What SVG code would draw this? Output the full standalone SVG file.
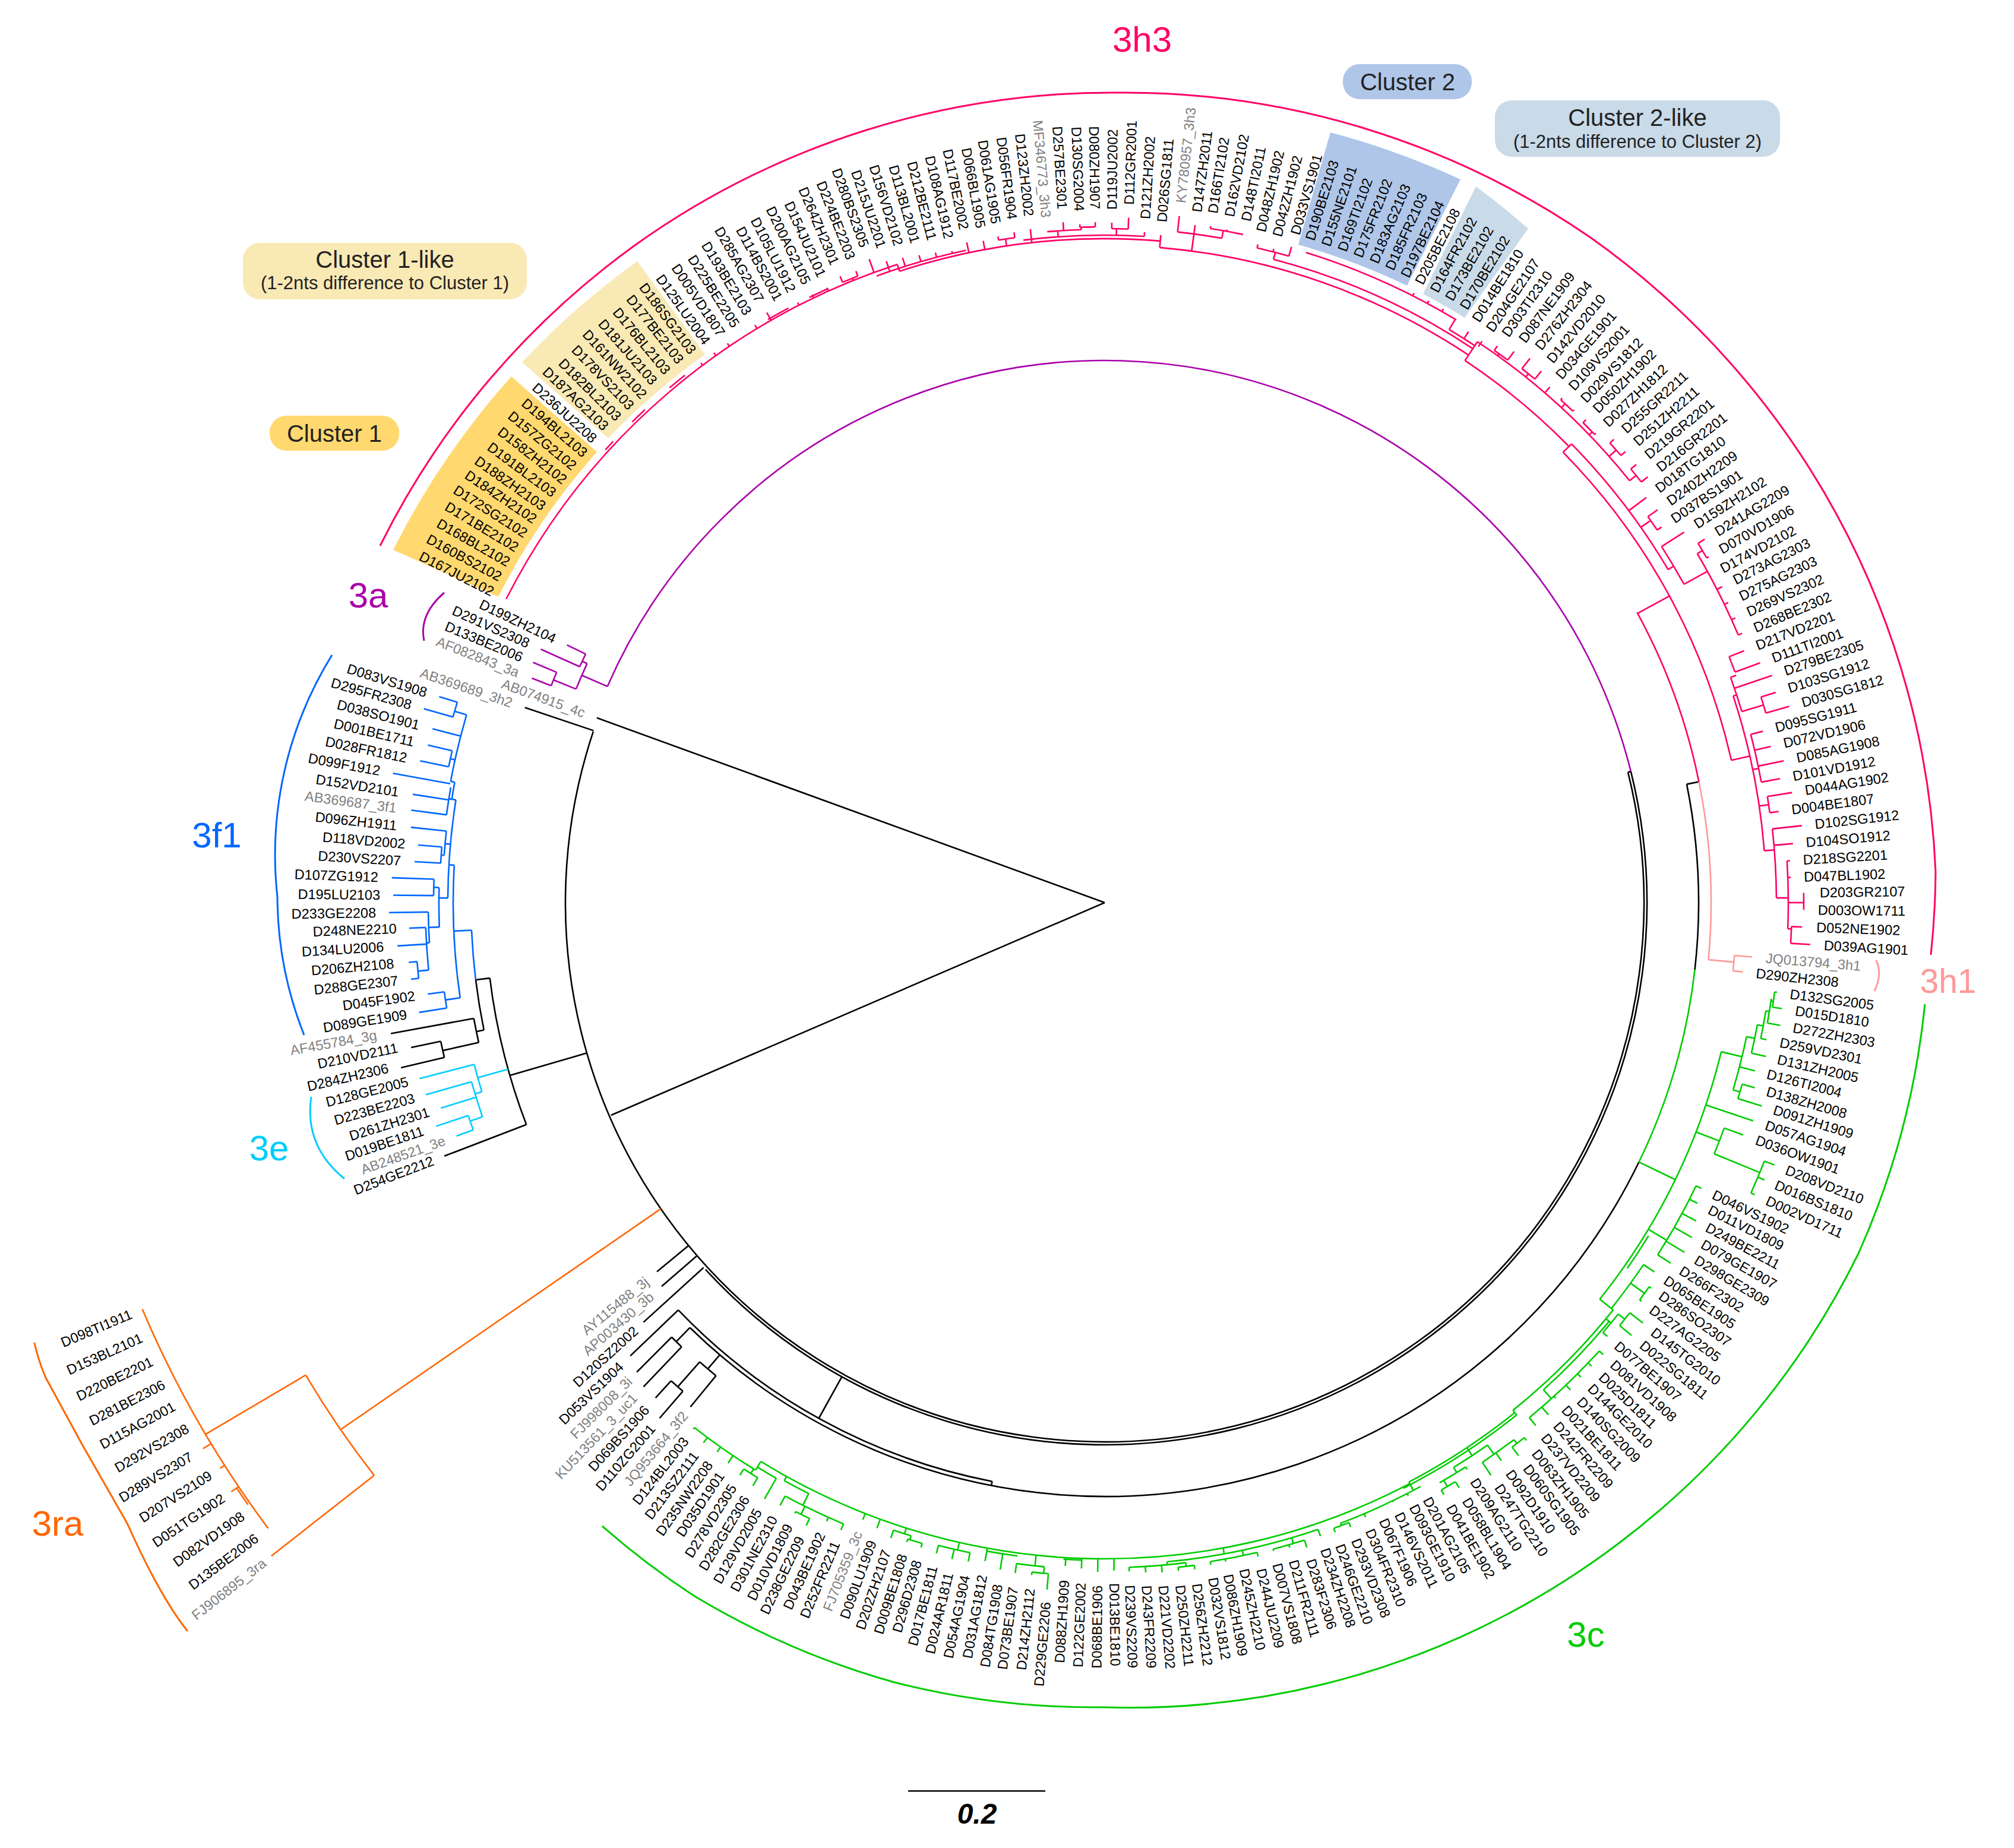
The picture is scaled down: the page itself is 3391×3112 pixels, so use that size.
<svg xmlns="http://www.w3.org/2000/svg" width="3391" height="3112" viewBox="0 0 3391 3112">
<style>
text{font-family:"Liberation Sans",Arial,sans-serif}
.t text{font-size:23.5px;dominant-baseline:central}
.l{text-anchor:end}
.g{fill:#808080}
.tr{fill:none;stroke-width:2.6}
.br{fill:none;stroke-width:3}
.h{font-size:60px}
.c1{font-size:40px;text-anchor:middle;fill:#222}
.c2{font-size:31px;text-anchor:middle;fill:#222}
</style>
<rect width="3391" height="3112" fill="#fff"/>
<g id="cluster-wedges">
<path id="wedge-cluster1" fill="#FFD86F" d="M861 634A1336 1336 0 0 0 662 926L839 1005A1143 1143 0 0 1 1005 761Z"/>
<path id="wedge-cluster1-like" fill="#F9E9B5" d="M879 610A1336 1336 0 0 1 1073 440L1187 597A1143 1143 0 0 0 1024 738Z"/>
<path id="wedge-cluster2" fill="#AFC6E9" d="M2240 223A1354 1354 0 0 1 2459 302L2369 481A1156 1156 0 0 0 2186 412Z"/>
<path id="wedge-cluster2-like" fill="#C9DAE8" d="M2485 314A1350 1350 0 0 1 2573 385L2466 535A1156 1156 0 0 0 2396 495Z"/>
</g>
<g id="cluster1-like"><rect x="409" y="409" width="478" height="95" rx="28" fill="#F9E9B5"/><text class="c1" x="648" y="451">Cluster 1-like</text><text class="c2" x="648" y="487">(1-2nts difference to Cluster 1)</text></g>
<g id="cluster1"><rect x="454" y="700" width="218" height="59" rx="28" fill="#FFD86F"/><text class="c1" x="563" y="744">Cluster 1</text></g>
<g id="cluster2"><rect x="2261" y="108" width="217" height="59" rx="28" fill="#AFC6E9"/><text class="c1" x="2370" y="152">Cluster 2</text></g>
<g id="cluster2-like"><rect x="2517" y="169" width="480" height="95" rx="28" fill="#C9DAE8"/><text class="c1" x="2757" y="212">Cluster 2-like</text><text class="c2" x="2757" y="249">(1-2nts difference to Cluster 2)</text></g>
<g id="clade-brackets" class="br">
<path stroke="#FF0066" d="M640 919A1380 1380 0 0 1 1069 413A1380 1380 0 0 1 1883 156A1380 1380 0 0 1 2678 400A1380 1380 0 0 1 3259 1468A1380 1380 0 0 1 3251 1608"/>
<path stroke="#FF9999" d="M3159 1617Q3170 1640 3156 1669"/>
<path stroke="#00CC00" d="M3241 1691A1365 1365 0 0 1 3129 2111A1365 1365 0 0 1 2724 2600A1365 1365 0 0 1 2229 2836A1365 1365 0 0 1 1859 2875A1365 1365 0 0 1 1506 2833A1365 1365 0 0 1 1168 2687A1365 1365 0 0 1 1014 2570"/>
<path stroke="#FF6600" d="M58 2261Q64 2290 77 2320L138 2432L214 2565Q270 2690 316 2747"/>
<path stroke="#00CCFF" d="M524 1847Q512 1930 580 1985"/>
<path stroke="#0066FF" d="M559 1103A640 640 0 0 0 467 1510A640 640 0 0 0 512 1743"/>
<path stroke="#AA00AA" d="M748 998Q705 1035 714 1079"/>
</g>
<g id="connectors" transform="translate(1860 1520)">
<g class="tr" stroke="#000">
<path d="M0 0H910" transform="rotate(200)"/><path d="M0 0H905" transform="rotate(156.7)"/>
<circle r="908" pathLength="360" stroke-dasharray="212.5 999" transform="rotate(346)"/>
<circle r="913" pathLength="360" stroke-dasharray="151.4 999" transform="rotate(346)"/>
<path d="M908 0H913" transform="rotate(346)"/>
<path d="M908 0H1030" transform="rotate(198.6)"/>
<path d="M908 0H1043" transform="rotate(163.8)"/>
<circle r="1043" pathLength="360" stroke-dasharray="14 999" transform="rotate(159)"/>
<path d="M1043 0H1191" transform="rotate(159)"/><path d="M1043 0H1067" transform="rotate(173)"/>
<circle r="1067" pathLength="360" stroke-dasharray="4.6 999" transform="rotate(168.4)"/>
<path d="M1067 0H1080" transform="rotate(168.4)"/>
<circle r="1080" pathLength="360" stroke-dasharray="2.2 999" transform="rotate(167.4)"/>
<path d="M1080 0H1222" transform="rotate(169.6)"/><path d="M1080 0H1142" transform="rotate(167.4)"/>
<circle r="1142" pathLength="360" stroke-dasharray="1.4 999" transform="rotate(166.8)"/>
<path d="M1142 0H1193" transform="rotate(168.2)"/><path d="M1142 0H1217" transform="rotate(166.8)"/>
<path d="M913 0H1050" transform="rotate(137.7)"/><path d="M908 0H987" transform="rotate(139.1)"/><path d="M908 0H977" transform="rotate(140.5)"/>
<path d="M913 0H993" transform="rotate(119)"/>
<circle r="993" pathLength="360" stroke-dasharray="35.3 999" transform="rotate(101)"/>
<path d="M993 0H1001" transform="rotate(101)"/><path d="M993 0H1105" transform="rotate(136.3)"/>
<circle r="1000" pathLength="360" stroke-dasharray="18 999" transform="rotate(348.5)"/>
<circle r="1000" pathLength="360" stroke-dasharray="108.4 999" transform="rotate(25.9)"/>
<path d="M1000 0H1021" transform="rotate(348.5)"/>
<path d="M1000 0H1033" transform="rotate(134.3)"/>
<circle r="1033" pathLength="360" stroke-dasharray="1.3 999" transform="rotate(133.6)"/>
<path d="M1033 0H1126" transform="rotate(133.6)"/><path d="M1033 0H1116" transform="rotate(134.9)"/>
<path d="M1000 0H1031" transform="rotate(130.4)"/>
<circle r="1031" pathLength="360" stroke-dasharray="2 999" transform="rotate(129.4)"/>
<path d="M1031 0H1099" transform="rotate(129.4)"/><path d="M1031 0H1087" transform="rotate(131.4)"/>
<circle r="1087" pathLength="360" stroke-dasharray="1.4 999" transform="rotate(130.8)"/>
<path d="M1087 0H1126" transform="rotate(132.2)"/><path d="M1087 0H1147" transform="rotate(130.8)"/>
</g>
<g class="tr" stroke="#AA00AA">
<circle r="913" pathLength="360" stroke-dasharray="142.5 999" transform="rotate(203.5)"/>
<path d="M913 0H960" transform="rotate(203.5)"/>
<circle r="960" pathLength="360" stroke-dasharray="2.8 999" transform="rotate(202)"/>
<path d="M960 0H969" transform="rotate(204.8)"/>
<circle r="969" pathLength="360" stroke-dasharray="1.4 999" transform="rotate(204.2)"/>
<path d="M969 0H1004" transform="rotate(205.6)"/><path d="M969 0H1041" transform="rotate(204.2)"/>
<path d="M960 0H1001" transform="rotate(202)"/>
<circle r="1001" pathLength="360" stroke-dasharray="1.4 999" transform="rotate(201.4)"/>
<path d="M1001 0H1044" transform="rotate(202.8)"/><path d="M1001 0H1036" transform="rotate(201.4)"/>
</g>
<g class="tr" stroke="#FF6600">
<path d="M908 0H1563" transform="rotate(145.4)"/>
<circle r="1563" pathLength="360" stroke-dasharray="7.5 999" transform="rotate(141.9)"/>
<path d="M1563 0H1783" transform="rotate(141.9)"/><path d="M1563 0H1759" transform="rotate(149.4)"/>
<circle r="1759" pathLength="360" stroke-dasharray="13.9 999" transform="rotate(143.2)"/>
<path d="M1759 0H1775" transform="rotate(148.8)"/><path d="M1759 0H1768" transform="rotate(147.4)"/><path d="M1759 0H1774" transform="rotate(146)"/>
<circle r="1763" pathLength="360" stroke-dasharray="1.1 999" transform="rotate(144.9)"/>
</g>
<g class="tr" stroke="#FF9999">
<circle r="1021" pathLength="360" stroke-dasharray="16.9 999" transform="rotate(348.5)"/>
<path d="M1021 0H1064" transform="rotate(5.4)"/>
<circle r="1064" pathLength="360" stroke-dasharray="1.4 999" transform="rotate(4.8)"/>
<path d="M1064 0H1094" transform="rotate(4.8)"/><path d="M1064 0H1081" transform="rotate(6.2)"/>
</g>
<g class="tr" stroke="#00CCFF">
<path d="M1043 0H1096" transform="rotate(164.4)"/>
<circle r="1096" pathLength="360" stroke-dasharray="2.5 999" transform="rotate(163.1)"/>
<path d="M1096 0H1191" transform="rotate(165.6)"/><path d="M1096 0H1108" transform="rotate(163.1)"/>
<circle r="1108" pathLength="360" stroke-dasharray="3.2 999" transform="rotate(161)"/>
<path d="M1108 0H1188" transform="rotate(164.2)"/><path d="M1108 0H1170" transform="rotate(162.8)"/><path d="M1108 0H1130" transform="rotate(161)"/>
<circle r="1130" pathLength="360" stroke-dasharray="1.3 999" transform="rotate(160.2)"/>
<path d="M1130 0H1187" transform="rotate(161.5)"/><path d="M1130 0H1160" transform="rotate(160.2)"/>
</g>
<g class="tr" stroke="#0066FF">
<circle r="1067" pathLength="360" stroke-dasharray="4.5 999" transform="rotate(173)"/>
<path d="M1067 0H1097" transform="rotate(177.5)"/>
<circle r="1097" pathLength="360" stroke-dasharray="11.7 999" transform="rotate(171.6)"/>
<path d="M1097 0H1122" transform="rotate(171.6)"/>
<circle r="1122" pathLength="360" stroke-dasharray="1.4 999" transform="rotate(170.9)"/>
<path d="M1122 0H1150" transform="rotate(172.3)"/><path d="M1122 0H1169" transform="rotate(170.9)"/>
<path d="M1097 0H1106" transform="rotate(183.3)"/>
<circle r="1106" pathLength="360" stroke-dasharray="8.6 999" transform="rotate(180.4)"/>
<path d="M1106 0H1113" transform="rotate(189)"/>
<circle r="1113" pathLength="360" stroke-dasharray="1.5 999" transform="rotate(189)"/>
<path d="M1113 0H1120" transform="rotate(190.5)"/>
<circle r="1120" pathLength="360" stroke-dasharray="5.9 999" transform="rotate(190.5)"/>
<path d="M1120 0H1141" transform="rotate(196.4)"/>
<circle r="1141" pathLength="360" stroke-dasharray="1.3 999" transform="rotate(195.9)"/>
<path d="M1141 0H1192" transform="rotate(195.9)"/><path d="M1141 0H1173" transform="rotate(197.2)"/>
<path d="M1120 0H1169" transform="rotate(194.5)"/><path d="M1120 0H1128" transform="rotate(192.4)"/>
<circle r="1128" pathLength="360" stroke-dasharray="1.4 999" transform="rotate(191.7)"/>
<path d="M1128 0H1170" transform="rotate(193.1)"/><path d="M1128 0H1177" transform="rotate(191.7)"/>
<path d="M1120 0H1218" transform="rotate(190.3)"/><path d="M1113 0H1118" transform="rotate(189)"/>
<circle r="1118" pathLength="360" stroke-dasharray="2.4 999" transform="rotate(187.6)"/>
<path d="M1118 0H1179" transform="rotate(188.9)"/><path d="M1118 0H1178" transform="rotate(187.6)"/>
<path d="M1106 0H1115" transform="rotate(185.1)"/>
<circle r="1115" pathLength="360" stroke-dasharray="2.1 999" transform="rotate(184.1)"/>
<path d="M1115 0H1175" transform="rotate(186.2)"/><path d="M1115 0H1120" transform="rotate(184.1)"/>
<circle r="1120" pathLength="360" stroke-dasharray="1.4 999" transform="rotate(183.4)"/>
<path d="M1120 0H1160" transform="rotate(184.8)"/><path d="M1120 0H1164" transform="rotate(183.4)"/>
<path d="M1106 0H1121" transform="rotate(180.4)"/>
<circle r="1121" pathLength="360" stroke-dasharray="3.4 999" transform="rotate(177.9)"/>
<path d="M1121 0H1130" transform="rotate(181.3)"/>
<circle r="1130" pathLength="360" stroke-dasharray="1.4 999" transform="rotate(180.6)"/>
<path d="M1130 0H1201" transform="rotate(182)"/><path d="M1130 0H1198" transform="rotate(180.6)"/>
<path d="M1121 0H1139" transform="rotate(177.9)"/>
<circle r="1139" pathLength="360" stroke-dasharray="2.6 999" transform="rotate(176.6)"/>
<path d="M1139 0H1205" transform="rotate(179.2)"/><path d="M1139 0H1144" transform="rotate(176.6)"/>
<circle r="1144" pathLength="360" stroke-dasharray="3.6 999" transform="rotate(174.3)"/>
<path d="M1144 0H1172" transform="rotate(177.9)"/><path d="M1144 0H1193" transform="rotate(176.5)"/><path d="M1144 0H1162" transform="rotate(174.3)"/>
<circle r="1162" pathLength="360" stroke-dasharray="1.4 999" transform="rotate(173.7)"/>
<path d="M1162 0H1176" transform="rotate(175.1)"/><path d="M1162 0H1175" transform="rotate(173.7)"/>
</g>
<g class="tr" stroke="#FF0066">
<circle r="1021" pathLength="360" stroke-dasharray="17.1 999" transform="rotate(331.4)"/>
<path d="M1021 0H1082" transform="rotate(331.5)"/>
<circle r="1082" pathLength="360" stroke-dasharray="31.7 999" transform="rotate(315.5)"/>
<path d="M1082 0H1114" transform="rotate(347.2)"/><path d="M1082 0H1102" transform="rotate(315.5)"/>
<circle r="1096" pathLength="360" stroke-dasharray="11.9 999" transform="rotate(303.6)"/>
<circle r="1102" pathLength="360" stroke-dasharray="13.9 999" transform="rotate(315.5)"/>
<path d="M1096 0H1134" transform="rotate(303.6)"/><path d="M1128 0H1139" transform="rotate(303.9)"/>
<circle r="1107" pathLength="360" stroke-dasharray="28.8 999" transform="rotate(274.8)"/>
<circle r="1120" pathLength="360" stroke-dasharray="18.9 999" transform="rotate(284.7)"/>
<circle r="1134" pathLength="360" stroke-dasharray="17.6 999" transform="rotate(303.6)"/>
<circle r="1126" pathLength="360" stroke-dasharray="2.6 999" transform="rotate(301)"/>
<path d="M1126 0H1140" transform="rotate(302.5)"/><path d="M1126 0H1146" transform="rotate(301)"/>
<circle r="1146" pathLength="360" stroke-dasharray="13.9 999" transform="rotate(287.2)"/>
<path d="M1146 0H1151" transform="rotate(296.9)"/><path d="M1146 0H1151" transform="rotate(298.3)"/><path d="M1146 0H1151" transform="rotate(299.7)"/>
<path d="M1120 0H1132" transform="rotate(284.7)"/>
<circle r="1132" pathLength="360" stroke-dasharray="2.8 999" transform="rotate(283.1)"/>
<path d="M1132 0H1148" transform="rotate(285.9)"/><path d="M1132 0H1138" transform="rotate(283.1)"/><path d="M1132 0H1137" transform="rotate(284.5)"/>
<path d="M1107 0H1136" transform="rotate(277.6)"/>
<circle r="1136" pathLength="360" stroke-dasharray="3.8 999" transform="rotate(276.2)"/>
<path d="M1136 0H1163" transform="rotate(276.2)"/><path d="M1136 0H1151" transform="rotate(277.6)"/><path d="M1136 0H1149" transform="rotate(280)"/>
<circle r="1149" pathLength="360" stroke-dasharray="2.8 999" transform="rotate(278.9)"/>
<path d="M1149 0H1153" transform="rotate(278.9)"/><path d="M1149 0H1152" transform="rotate(280.3)"/>
<path d="M1107 0H1128" transform="rotate(274.8)"/>
<circle r="1118" pathLength="360" stroke-dasharray="22.8 999" transform="rotate(252)"/>
<circle r="1124" pathLength="360" stroke-dasharray="10.4 999" transform="rotate(263)"/>
<path d="M1124 0H1131" transform="rotate(273.4)"/><path d="M1124 0H1135" transform="rotate(271)"/>
<circle r="1135" pathLength="360" stroke-dasharray="1.4 999" transform="rotate(270.6)"/>
<path d="M1135 0H1145" transform="rotate(270.6)"/><path d="M1135 0H1154" transform="rotate(272)"/>
<path d="M1118 0H1141" transform="rotate(263.7)"/><path d="M1124 0H1134" transform="rotate(266)"/>
<circle r="1134" pathLength="360" stroke-dasharray="2.9 999" transform="rotate(265.1)"/>
<path d="M1134 0H1148" transform="rotate(266.5)"/><path d="M1134 0H1138" transform="rotate(268)"/>
<circle r="1138" pathLength="360" stroke-dasharray="1.3 999" transform="rotate(267.9)"/>
<path d="M1138 0H1143" transform="rotate(267.9)"/><path d="M1138 0H1146" transform="rotate(269.2)"/>
<path d="M1118 0H1130" transform="rotate(261.5)"/>
<circle r="1130" pathLength="360" stroke-dasharray="1.4 999" transform="rotate(260.9)"/>
<path d="M1130 0H1139" transform="rotate(262.3)"/><path d="M1130 0H1136" transform="rotate(260.9)"/>
<path d="M1118 0H1133" transform="rotate(259.6)"/><path d="M1118 0H1136" transform="rotate(258.2)"/>
<circle r="1123" pathLength="360" stroke-dasharray="8 999" transform="rotate(250)"/>
<path d="M1123 0H1127" transform="rotate(256.8)"/><path d="M1123 0H1131" transform="rotate(255.4)"/><path d="M1123 0H1134" transform="rotate(254)"/><path d="M1123 0H1138" transform="rotate(252.6)"/><path d="M1123 0H1141" transform="rotate(251.2)"/>
<circle r="1130" pathLength="360" stroke-dasharray="45.1 999" transform="rotate(206.9)"/>
<path d="M1118 0H1130" transform="rotate(252)"/><path d="M1130 0H1154" transform="rotate(249.9)"/><path d="M1130 0H1134" transform="rotate(248)"/>
<circle r="1134" pathLength="360" stroke-dasharray="1.4 999" transform="rotate(247.1)"/>
<path d="M1134 0H1145" transform="rotate(247.1)"/><path d="M1134 0H1143" transform="rotate(248.5)"/>
<path d="M1130 0H1136" transform="rotate(245.7)"/><path d="M1130 0H1136" transform="rotate(244.3)"/><path d="M1130 0H1135" transform="rotate(242.9)"/><path d="M1130 0H1145" transform="rotate(240.2)"/><path d="M1130 0H1137" transform="rotate(238.8)"/><path d="M1130 0H1136" transform="rotate(236)"/><path d="M1130 0H1136" transform="rotate(234.6)"/><path d="M1130 0H1135" transform="rotate(233.2)"/>
<circle r="1135" pathLength="360" stroke-dasharray="1 999" transform="rotate(222.2)"/>
<circle r="1135" pathLength="360" stroke-dasharray="1.5 999" transform="rotate(225.5)"/>
<circle r="1135" pathLength="360" stroke-dasharray="1.7 999" transform="rotate(229.8)"/>
<circle r="1134" pathLength="360" stroke-dasharray="2 999" transform="rotate(240)"/>
<circle r="1134" pathLength="360" stroke-dasharray="1.7 999" transform="rotate(244)"/>
<path d="M1134 0H1147" transform="rotate(310.8)"/><path d="M1134 0H1143" transform="rotate(312.7)"/>
<circle r="1143" pathLength="360" stroke-dasharray="1.4 999" transform="rotate(312.2)"/>
<path d="M1143 0H1147" transform="rotate(312.2)"/><path d="M1143 0H1146" transform="rotate(313.6)"/>
<path d="M1134 0H1138" transform="rotate(305.7)"/>
<circle r="1138" pathLength="360" stroke-dasharray="1.4 999" transform="rotate(305.2)"/>
<path d="M1138 0H1147" transform="rotate(305.2)"/><path d="M1138 0H1156" transform="rotate(306.6)"/>
<path d="M1134 0H1141" transform="rotate(308.7)"/>
<circle r="1141" pathLength="360" stroke-dasharray="1.4 999" transform="rotate(308)"/>
<path d="M1141 0H1163" transform="rotate(308)"/><path d="M1141 0H1158" transform="rotate(309.4)"/>
<path d="M1134 0H1141" transform="rotate(316)"/>
<circle r="1141" pathLength="360" stroke-dasharray="1.4 999" transform="rotate(314.9)"/>
<path d="M1141 0H1148" transform="rotate(314.9)"/><path d="M1141 0H1144" transform="rotate(316.3)"/>
<path d="M1134 0H1150" transform="rotate(318.5)"/>
<circle r="1150" pathLength="360" stroke-dasharray="1.4 999" transform="rotate(317.7)"/>
<path d="M1150 0H1159" transform="rotate(317.7)"/><path d="M1150 0H1160" transform="rotate(319.1)"/>
<path d="M1134 0H1148" transform="rotate(321.2)"/>
<circle r="1148" pathLength="360" stroke-dasharray="1.4 999" transform="rotate(320.5)"/>
<path d="M1148 0H1160" transform="rotate(320.5)"/><path d="M1148 0H1162" transform="rotate(321.9)"/>
<path d="M1102 0H1139" transform="rotate(323.2)"/><path d="M1102 0H1122" transform="rotate(325)"/>
<circle r="1122" pathLength="360" stroke-dasharray="1.4 999" transform="rotate(324.6)"/>
<path d="M1122 0H1142" transform="rotate(324.6)"/><path d="M1122 0H1131" transform="rotate(326)"/>
<path d="M1102 0H1113" transform="rotate(329.4)"/>
<circle r="1113" pathLength="360" stroke-dasharray="3.8 999" transform="rotate(327.4)"/>
<path d="M1113 0H1158" transform="rotate(327.4)"/><path d="M1113 0H1158" transform="rotate(331.2)"/>
<circle r="1158" pathLength="360" stroke-dasharray="7.6 999" transform="rotate(329.5)"/>
<path d="M1158 0H1168" transform="rotate(329.5)"/>
<circle r="1168" pathLength="360" stroke-dasharray="1.4 999" transform="rotate(328.8)"/>
<path d="M1168 0H1181" transform="rotate(328.8)"/><path d="M1168 0H1172" transform="rotate(330.2)"/>
<path d="M1158 0H1168" transform="rotate(332.9)"/><path d="M1158 0H1165" transform="rotate(334.3)"/><path d="M1158 0H1165" transform="rotate(335.7)"/><path d="M1158 0H1165" transform="rotate(337.1)"/>
<circle r="1114" pathLength="360" stroke-dasharray="13.7 999" transform="rotate(341.8)"/>
<path d="M1114 0H1120" transform="rotate(341.8)"/>
<circle r="1120" pathLength="360" stroke-dasharray="3.1 999" transform="rotate(340.2)"/>
<path d="M1120 0H1130" transform="rotate(340.2)"/>
<circle r="1130" pathLength="360" stroke-dasharray="1.4 999" transform="rotate(338.5)"/>
<path d="M1130 0H1157" transform="rotate(338.5)"/><path d="M1130 0H1175" transform="rotate(339.9)"/><path d="M1120 0H1187" transform="rotate(341.2)"/><path d="M1120 0H1158" transform="rotate(343.3)"/>
<circle r="1158" pathLength="360" stroke-dasharray="1.4 999" transform="rotate(342.6)"/>
<path d="M1158 0H1184" transform="rotate(342.6)"/><path d="M1158 0H1199" transform="rotate(344)"/>
<path d="M1114 0H1124" transform="rotate(348.4)"/>
<circle r="1124" pathLength="360" stroke-dasharray="4.2 999" transform="rotate(345.4)"/>
<path d="M1124 0H1145" transform="rotate(345.4)"/><path d="M1124 0H1152" transform="rotate(346.8)"/><path d="M1124 0H1168" transform="rotate(348.2)"/><path d="M1124 0H1156" transform="rotate(349.6)"/>
<path d="M1114 0H1130" transform="rotate(351.6)"/>
<circle r="1130" pathLength="360" stroke-dasharray="1.4 999" transform="rotate(350.9)"/>
<path d="M1130 0H1172" transform="rotate(350.9)"/><path d="M1130 0H1145" transform="rotate(352.3)"/>
<path d="M1114 0H1131" transform="rotate(355.5)"/>
<circle r="1131" pathLength="360" stroke-dasharray="5.9 999" transform="rotate(353.7)"/>
<path d="M1131 0H1181" transform="rotate(353.7)"/><path d="M1131 0H1163" transform="rotate(355.1)"/><path d="M1131 0H1151" transform="rotate(359.6)"/>
<circle r="1151" pathLength="360" stroke-dasharray="5.7 999" transform="rotate(356.5)"/>
<path d="M1151 0H1156" transform="rotate(356.5)"/><path d="M1151 0H1156" transform="rotate(357.9)"/><path d="M1151 0H1177" transform="rotate(360)"/>
<circle r="1177" pathLength="360" stroke-dasharray="1.4 999" transform="rotate(359.2)"/>
<path d="M1151 0H1157" transform="rotate(362.2)"/>
<circle r="1157" pathLength="360" stroke-dasharray="1.4 999" transform="rotate(362)"/>
<path d="M1157 0H1175" transform="rotate(362)"/><path d="M1157 0H1190" transform="rotate(363.4)"/>
</g>
<g class="tr" stroke="#00CC00">
<circle r="1000" pathLength="360" stroke-dasharray="19.4 999" transform="rotate(6.5)"/>
<path d="M1000 0H1068" transform="rotate(25.9)"/>
<circle r="1068" pathLength="360" stroke-dasharray="25.1 999" transform="rotate(13.6)"/>
<circle r="1074" pathLength="360" stroke-dasharray="3.5 999" transform="rotate(31.5)"/>
<path d="M1068 0H1104" transform="rotate(13.6)"/>
<circle r="1104" pathLength="360" stroke-dasharray="4.8 999" transform="rotate(11.8)"/>
<path d="M1104 0H1118" transform="rotate(11.8)"/>
<circle r="1118" pathLength="360" stroke-dasharray="2.5 999" transform="rotate(10.6)"/>
<path d="M1118 0H1143" transform="rotate(13.1)"/><path d="M1118 0H1128" transform="rotate(10.6)"/>
<circle r="1128" pathLength="360" stroke-dasharray="2.4 999" transform="rotate(9.3)"/>
<path d="M1128 0H1138" transform="rotate(11.7)"/><path d="M1128 0H1134" transform="rotate(9.3)"/>
<circle r="1134" pathLength="360" stroke-dasharray="2.1 999" transform="rotate(8.2)"/>
<path d="M1134 0H1156" transform="rotate(10.3)"/><path d="M1134 0H1138" transform="rotate(8.4)"/>
<circle r="1138" pathLength="360" stroke-dasharray="1.3 999" transform="rotate(7.6)"/>
<path d="M1138 0H1142" transform="rotate(7.6)"/><path d="M1138 0H1154" transform="rotate(8.9)"/>
<path d="M1104 0H1131" transform="rotate(14.5)"/><path d="M1104 0H1116" transform="rotate(16.6)"/>
<circle r="1116" pathLength="360" stroke-dasharray="1.3 999" transform="rotate(15.9)"/>
<path d="M1116 0H1138" transform="rotate(15.9)"/><path d="M1116 0H1158" transform="rotate(17.2)"/>
<path d="M1068 0H1152" transform="rotate(18.6)"/><path d="M1068 0H1110" transform="rotate(21.2)"/>
<circle r="1110" pathLength="360" stroke-dasharray="2.4 999" transform="rotate(20)"/>
<path d="M1110 0H1144" transform="rotate(20)"/><path d="M1110 0H1193" transform="rotate(22.4)"/>
<circle r="1193" pathLength="360" stroke-dasharray="2.8 999" transform="rotate(21.4)"/>
<path d="M1193 0H1211" transform="rotate(21.4)"/><path d="M1193 0H1205" transform="rotate(22.8)"/><path d="M1193 0H1200" transform="rotate(24.2)"/>
<path d="M1068 0H1104" transform="rotate(31)"/>
<circle r="1104" pathLength="360" stroke-dasharray="6.9 999" transform="rotate(25.6)"/>
<path d="M1104 0H1114" transform="rotate(25.6)"/><path d="M1104 0H1119" transform="rotate(26.9)"/><path d="M1104 0H1131" transform="rotate(28.3)"/><path d="M1104 0H1138" transform="rotate(29.7)"/><path d="M1104 0H1140" transform="rotate(31.1)"/><path d="M1104 0H1130" transform="rotate(32.5)"/>
<path d="M1068 0H1093" transform="rotate(38.7)"/>
<circle r="1093" pathLength="360" stroke-dasharray="4.8 999" transform="rotate(33.9)"/>
<path d="M1093 0H1115" transform="rotate(33.9)"/><path d="M1093 0H1122" transform="rotate(35.9)"/>
<circle r="1122" pathLength="360" stroke-dasharray="1.4 999" transform="rotate(35.2)"/>
<path d="M1122 0H1126" transform="rotate(35.2)"/><path d="M1122 0H1126" transform="rotate(36.6)"/>
<path d="M1093 0H1097" transform="rotate(38.7)"/>
<circle r="1097" pathLength="360" stroke-dasharray="12.5 999" transform="rotate(38.7)"/>
<path d="M1097 0H1108" transform="rotate(39.7)"/>
<circle r="1104" pathLength="360" stroke-dasharray="8.3 999" transform="rotate(39.7)"/>
<circle r="1108" pathLength="360" stroke-dasharray="2.1 999" transform="rotate(38.7)"/>
<path d="M1108 0H1118" transform="rotate(40.8)"/><path d="M1108 0H1122" transform="rotate(38.7)"/>
<circle r="1122" pathLength="360" stroke-dasharray="1.4 999" transform="rotate(38)"/>
<path d="M1122 0H1150" transform="rotate(38)"/><path d="M1122 0H1148" transform="rotate(39.4)"/>
<path d="M1104 0H1124" transform="rotate(48)"/>
<circle r="1124" pathLength="360" stroke-dasharray="8.3 999" transform="rotate(42.2)"/>
<path d="M1124 0H1133" transform="rotate(42.2)"/><path d="M1124 0H1132" transform="rotate(43.6)"/><path d="M1124 0H1132" transform="rotate(44.9)"/><path d="M1124 0H1135" transform="rotate(46.3)"/><path d="M1124 0H1128" transform="rotate(47.7)"/><path d="M1124 0H1141" transform="rotate(49.1)"/><path d="M1124 0H1141" transform="rotate(50.5)"/>
<path d="M1097 0H1107" transform="rotate(51.2)"/>
<circle r="1102" pathLength="360" stroke-dasharray="11.1 999" transform="rotate(51.2)"/>
<circle r="1107" pathLength="360" stroke-dasharray="11.8 999" transform="rotate(51.2)"/>
<path d="M1102 0H1118" transform="rotate(56.4)"/>
<circle r="1118" pathLength="360" stroke-dasharray="3.5 999" transform="rotate(54.8)"/>
<path d="M1118 0H1137" transform="rotate(54.8)"/>
<circle r="1137" pathLength="360" stroke-dasharray="3.3 999" transform="rotate(52.7)"/>
<path d="M1137 0H1163" transform="rotate(56)"/><path d="M1137 0H1153" transform="rotate(54.6)"/><path d="M1137 0H1145" transform="rotate(52.7)"/>
<circle r="1145" pathLength="360" stroke-dasharray="1.3 999" transform="rotate(51.9)"/>
<path d="M1145 0H1151" transform="rotate(51.9)"/><path d="M1145 0H1163" transform="rotate(53.2)"/>
<path d="M1118 0H1128" transform="rotate(58.3)"/>
<circle r="1128" pathLength="360" stroke-dasharray="2.6 999" transform="rotate(57.4)"/>
<path d="M1128 0H1133" transform="rotate(57.4)"/><path d="M1128 0H1140" transform="rotate(59.6)"/>
<circle r="1140" pathLength="360" stroke-dasharray="1.4 999" transform="rotate(58.8)"/>
<path d="M1140 0H1152" transform="rotate(58.8)"/><path d="M1140 0H1149" transform="rotate(60.2)"/>
<path d="M1102 0H1118" transform="rotate(62.3)"/>
<circle r="1118" pathLength="360" stroke-dasharray="7.6 999" transform="rotate(61.6)"/>
<path d="M1118 0H1122" transform="rotate(62.9)"/><path d="M1118 0H1120" transform="rotate(64.3)"/><path d="M1118 0H1124" transform="rotate(67)"/><path d="M1118 0H1122" transform="rotate(69.2)"/>
<circle r="1122" pathLength="360" stroke-dasharray="1.4 999" transform="rotate(68.5)"/>
<path d="M1122 0H1130" transform="rotate(68.5)"/><path d="M1122 0H1129" transform="rotate(69.9)"/>
<circle r="1105" pathLength="360" stroke-dasharray="59.3 999" transform="rotate(62.3)"/>
<path d="M1105 0H1115" transform="rotate(79.6)"/>
<circle r="1115" pathLength="360" stroke-dasharray="13.4 999" transform="rotate(71.2)"/>
<path d="M1115 0H1127" transform="rotate(71.2)"/><path d="M1115 0H1125" transform="rotate(73.6)"/>
<circle r="1125" pathLength="360" stroke-dasharray="2.8 999" transform="rotate(72.6)"/>
<path d="M1125 0H1138" transform="rotate(72.6)"/><path d="M1125 0H1130" transform="rotate(74)"/><path d="M1125 0H1128" transform="rotate(75.4)"/>
<path d="M1115 0H1124" transform="rotate(78)"/>
<circle r="1124" pathLength="360" stroke-dasharray="4.1 999" transform="rotate(76.8)"/>
<path d="M1124 0H1131" transform="rotate(76.8)"/><path d="M1124 0H1128" transform="rotate(79.6)"/><path d="M1124 0H1129" transform="rotate(80.9)"/>
<path d="M1115 0H1120" transform="rotate(84.6)"/>
<circle r="1120" pathLength="360" stroke-dasharray="4.9 999" transform="rotate(83)"/>
<path d="M1120 0H1126" transform="rotate(83)"/>
<circle r="1126" pathLength="360" stroke-dasharray="1.4 999" transform="rotate(82.3)"/>
<path d="M1126 0H1133" transform="rotate(82.3)"/><path d="M1126 0H1132" transform="rotate(83.7)"/>
<path d="M1120 0H1132" transform="rotate(85.1)"/><path d="M1120 0H1130" transform="rotate(86.5)"/><path d="M1120 0H1127" transform="rotate(87.9)"/>
<path d="M1105 0H1125" transform="rotate(89.2)"/><path d="M1105 0H1127" transform="rotate(90.6)"/><path d="M1105 0H1122" transform="rotate(92)"/><path d="M1105 0H1119" transform="rotate(93.4)"/>
<circle r="1108" pathLength="360" stroke-dasharray="1.6 999" transform="rotate(92)"/>
<path d="M1105 0H1123" transform="rotate(96)"/>
<circle r="1123" pathLength="360" stroke-dasharray="2.4 999" transform="rotate(95.2)"/>
<path d="M1123 0H1139" transform="rotate(97.6)"/><path d="M1123 0H1134" transform="rotate(95.2)"/>
<circle r="1134" pathLength="360" stroke-dasharray="1.4 999" transform="rotate(94.8)"/>
<path d="M1134 0H1139" transform="rotate(96.2)"/><path d="M1134 0H1161" transform="rotate(94.8)"/>
<path d="M1105 0H1127" transform="rotate(100.3)"/>
<circle r="1110" pathLength="360" stroke-dasharray="2.7 999" transform="rotate(97.6)"/>
<path d="M1110 0H1137" transform="rotate(98.9)"/>
<path d="M1105 0H1118" transform="rotate(102.8)"/>
<circle r="1118" pathLength="360" stroke-dasharray="2.8 999" transform="rotate(101.7)"/>
<path d="M1118 0H1133" transform="rotate(101.7)"/><path d="M1118 0H1135" transform="rotate(103.1)"/><path d="M1118 0H1132" transform="rotate(104.5)"/>
<path d="M1105 0H1115" transform="rotate(107.6)"/>
<circle r="1115" pathLength="360" stroke-dasharray="1.6 999" transform="rotate(107)"/>
<path d="M1115 0H1129" transform="rotate(108.6)"/><path d="M1115 0H1122" transform="rotate(107)"/>
<circle r="1122" pathLength="360" stroke-dasharray="1.3 999" transform="rotate(105.9)"/>
<path d="M1122 0H1129" transform="rotate(105.9)"/><path d="M1122 0H1127" transform="rotate(107.2)"/>
<path d="M1105 0H1121" transform="rotate(110)"/><path d="M1105 0H1116" transform="rotate(111.4)"/>
<path d="M1105 0H1122" transform="rotate(121.6)"/>
<circle r="1122" pathLength="360" stroke-dasharray="6.4 999" transform="rotate(121.6)"/>
<path d="M1122 0H1125" transform="rotate(128)"/><path d="M1122 0H1133" transform="rotate(126.6)"/><path d="M1122 0H1132" transform="rotate(125.2)"/><path d="M1122 0H1137" transform="rotate(123.9)"/><path d="M1122 0H1131" transform="rotate(121.8)"/>
<circle r="1131" pathLength="360" stroke-dasharray="1.4 999" transform="rotate(121.1)"/>
<path d="M1131 0H1147" transform="rotate(121.1)"/><path d="M1131 0H1143" transform="rotate(122.5)"/>
<circle r="1116" pathLength="360" stroke-dasharray="1.9 999" transform="rotate(119.7)"/>
<path d="M1116 0H1156" transform="rotate(119.7)"/>
<path d="M1105 0H1113" transform="rotate(119)"/>
<circle r="1113" pathLength="360" stroke-dasharray="2.4 999" transform="rotate(116.6)"/>
<path d="M1113 0H1135" transform="rotate(116.6)"/>
<circle r="1135" pathLength="360" stroke-dasharray="5.5 999" transform="rotate(112.8)"/>
<path d="M1135 0H1153" transform="rotate(118.3)"/><path d="M1135 0H1150" transform="rotate(116.4)"/>
<circle r="1150" pathLength="360" stroke-dasharray="1.3 999" transform="rotate(115.6)"/>
<path d="M1150 0H1153" transform="rotate(116.9)"/><path d="M1150 0H1163" transform="rotate(115.6)"/>
<path d="M1135 0H1142" transform="rotate(114.2)"/><path d="M1135 0H1146" transform="rotate(112.8)"/>
</g>
</g>
<g id="tip-labels" class="t" transform="translate(1860 1520)">
<g id="JQ013794_3h1"><text class="g" transform="rotate(4.8)" x="1117">JQ013794_3h1</text></g>
<g id="D290ZH2308"><text transform="rotate(6.2)" x="1103">D290ZH2308</text></g>
<g id="D132SG2005"><text transform="rotate(7.6)" x="1164">D132SG2005</text></g>
<g id="D015D1810"><text transform="rotate(8.9)" x="1177">D015D1810</text></g>
<g id="D272ZH2303"><text transform="rotate(10.3)" x="1178">D272ZH2303</text></g>
<g id="D259VD2301"><text transform="rotate(11.7)" x="1161">D259VD2301</text></g>
<g id="D131ZH2005"><text transform="rotate(13.1)" x="1163">D131ZH2005</text></g>
<g id="D126TI2004"><text transform="rotate(14.5)" x="1152">D126TI2004</text></g>
<g id="D138ZH2008"><text transform="rotate(15.9)" x="1159">D138ZH2008</text></g>
<g id="D091ZH1909"><text transform="rotate(17.2)" x="1179">D091ZH1909</text></g>
<g id="D057AG1904"><text transform="rotate(18.6)" x="1174">D057AG1904</text></g>
<g id="D036OW1901"><text transform="rotate(20)" x="1167">D036OW1901</text></g>
<g id="D208VD2110"><text transform="rotate(21.4)" x="1232">D208VD2110</text></g>
<g id="D016BS1810"><text transform="rotate(22.8)" x="1225">D016BS1810</text></g>
<g id="D002VD1711"><text transform="rotate(24.2)" x="1222">D002VD1711</text></g>
<g id="D046VS1902"><text transform="rotate(25.6)" x="1136">D046VS1902</text></g>
<g id="D011VD1809"><text transform="rotate(26.9)" x="1141">D011VD1809</text></g>
<g id="D249BE2211"><text transform="rotate(28.3)" x="1151">D249BE2211</text></g>
<g id="D079GE1907"><text transform="rotate(29.7)" x="1158">D079GE1907</text></g>
<g id="D298GE2309"><text transform="rotate(31.1)" x="1162">D298GE2309</text></g>
<g id="D266F2302"><text transform="rotate(32.5)" x="1150">D266F2302</text></g>
<g id="D065BE1905"><text transform="rotate(33.9)" x="1137">D065BE1905</text></g>
<g id="D286SO2307"><text transform="rotate(35.2)" x="1145">D286SO2307</text></g>
<g id="D227AG2205"><text transform="rotate(36.6)" x="1146">D227AG2205</text></g>
<g id="D145TG2010"><text transform="rotate(38)" x="1171">D145TG2010</text></g>
<g id="D022SG1811"><text transform="rotate(39.4)" x="1170">D022SG1811</text></g>
<g id="D077BE1907"><text transform="rotate(40.8)" x="1138">D077BE1907</text></g>
<g id="D081VD1908"><text transform="rotate(42.2)" x="1154">D081VD1908</text></g>
<g id="D025D1811"><text transform="rotate(43.6)" x="1154">D025D1811</text></g>
<g id="D144GE2010"><text transform="rotate(44.9)" x="1154">D144GE2010</text></g>
<g id="D140SG2009"><text transform="rotate(46.3)" x="1157">D140SG2009</text></g>
<g id="D021BE1811"><text transform="rotate(47.7)" x="1150">D021BE1811</text></g>
<g id="D242FR2209"><text transform="rotate(49.1)" x="1161">D242FR2209</text></g>
<g id="D237VD2209"><text transform="rotate(50.5)" x="1163">D237VD2209</text></g>
<g id="D063ZH1905"><text transform="rotate(51.9)" x="1174">D063ZH1905</text></g>
<g id="D060SG1905"><text transform="rotate(53.2)" x="1185">D060SG1905</text></g>
<g id="D092D1910"><text transform="rotate(54.6)" x="1175">D092D1910</text></g>
<g id="D247TG2210"><text transform="rotate(56)" x="1184">D247TG2210</text></g>
<g id="D209AG2110"><text transform="rotate(57.4)" x="1153">D209AG2110</text></g>
<g id="D058BL1904"><text transform="rotate(58.8)" x="1174">D058BL1904</text></g>
<g id="D041BE1902"><text transform="rotate(60.2)" x="1170">D041BE1902</text></g>
<g id="D201AG2105"><text transform="rotate(61.6)" x="1140">D201AG2105</text></g>
<g id="D093GE1910"><text transform="rotate(62.9)" x="1140">D093GE1910</text></g>
<g id="D146VS2011"><text transform="rotate(64.3)" x="1141">D146VS2011</text></g>
<g id="D067F1906"><text transform="rotate(65.7)" x="1139">D067F1906</text></g>
<g id="D304FR2310"><text transform="rotate(67.1)" x="1146">D304FR2310</text></g>
<g id="D293VD2308"><text transform="rotate(68.5)" x="1152">D293VD2308</text></g>
<g id="D246GE2210"><text transform="rotate(69.9)" x="1151">D246GE2210</text></g>
<g id="D234ZH2208"><text transform="rotate(71.2)" x="1149">D234ZH2208</text></g>
<g id="D283F2306"><text transform="rotate(72.6)" x="1159">D283F2306</text></g>
<g id="D211FR2111"><text transform="rotate(74)" x="1152">D211FR2111</text></g>
<g id="D007VS1808"><text transform="rotate(75.4)" x="1150">D007VS1808</text></g>
<g id="D244JU2209"><text transform="rotate(76.8)" x="1152">D244JU2209</text></g>
<g id="D245ZH2210"><text transform="rotate(78.2)" x="1146">D245ZH2210</text></g>
<g id="D086ZH1909"><text transform="rotate(79.6)" x="1150">D086ZH1909</text></g>
<g id="D032VS1812"><text transform="rotate(80.9)" x="1151">D032VS1812</text></g>
<g id="D256ZH2212"><text transform="rotate(82.3)" x="1157">D256ZH2212</text></g>
<g id="D250ZH2211"><text transform="rotate(83.7)" x="1156">D250ZH2211</text></g>
<g id="D221VD2202"><text transform="rotate(85.1)" x="1154">D221VD2202</text></g>
<g id="D243FR2209"><text transform="rotate(86.5)" x="1152">D243FR2209</text></g>
<g id="D239VS2209"><text transform="rotate(87.9)" x="1150">D239VS2209</text></g>
<g id="D013BE1810"><text transform="rotate(89.2)" x="1146">D013BE1810</text></g>
<g class="l">
<g id="D068BE1906"><text transform="rotate(-89.4)" x="-1150">D068BE1906</text></g>
<g id="D122GE2002"><text transform="rotate(-88)" x="-1146">D122GE2002</text></g>
<g id="D088ZH1909"><text transform="rotate(-86.6)" x="-1143">D088ZH1909</text></g>
<g id="D229GE2206"><text transform="rotate(-85.2)" x="-1182">D229GE2206</text></g>
<g id="D214ZH2112"><text transform="rotate(-83.8)" x="-1162">D214ZH2112</text></g>
<g id="D073BE1907"><text transform="rotate(-82.4)" x="-1163">D073BE1907</text></g>
<g id="D084TG1908"><text transform="rotate(-81.1)" x="-1162">D084TG1908</text></g>
<g id="D031AG1812"><text transform="rotate(-79.7)" x="-1151">D031AG1812</text></g>
<g id="D054AG1904"><text transform="rotate(-78.3)" x="-1157">D054AG1904</text></g>
<g id="D024AR1811"><text transform="rotate(-76.9)" x="-1159">D024AR1811</text></g>
<g id="D017BE1811"><text transform="rotate(-75.5)" x="-1154">D017BE1811</text></g>
<g id="D296D2308"><text transform="rotate(-74.1)" x="-1152">D296D2308</text></g>
<g id="D009BE1808"><text transform="rotate(-72.8)" x="-1149">D009BE1808</text></g>
<g id="D202ZH2107"><text transform="rotate(-71.4)" x="-1151">D202ZH2107</text></g>
<g id="D090LU1909"><text transform="rotate(-70)" x="-1144">D090LU1909</text></g>
<g id="FJ705359_3c"><text class="g" transform="rotate(-68.6)" x="-1138">FJ705359_3c</text></g>
<g id="D252FR2211"><text transform="rotate(-67.2)" x="-1168">D252FR2211</text></g>
<g id="D043BE1902"><text transform="rotate(-65.8)" x="-1164">D043BE1902</text></g>
<g id="D238GE2209"><text transform="rotate(-64.4)" x="-1185">D238GE2209</text></g>
<g id="D010VD1809"><text transform="rotate(-63.1)" x="-1175">D010VD1809</text></g>
<g id="D301NE2310"><text transform="rotate(-61.7)" x="-1175">D301NE2310</text></g>
<g id="D129VD2005"><text transform="rotate(-60.3)" x="-1177">D129VD2005</text></g>
<g id="D282GE2306"><text transform="rotate(-58.9)" x="-1169">D282GE2306</text></g>
<g id="D278VD2305"><text transform="rotate(-57.5)" x="-1164">D278VD2305</text></g>
<g id="D035D1901"><text transform="rotate(-56.1)" x="-1158">D035D1901</text></g>
<g id="D235NW2208"><text transform="rotate(-54.8)" x="-1154">D235NW2208</text></g>
<g id="D213SZ2111"><text transform="rotate(-53.4)" x="-1155">D213SZ2111</text></g>
<g id="D124BL2003"><text transform="rotate(-52)" x="-1146">D124BL2003</text></g>
<g id="JQ953664_3f2"><text class="g" transform="rotate(-50.6)" x="-1113">JQ953664_3f2</text></g>
<g id="D110ZG2001"><text transform="rotate(-49.2)" x="-1165">D110ZG2001</text></g>
<g id="D069BS1906"><text transform="rotate(-47.8)" x="-1148">D069BS1906</text></g>
<g id="KU513561_3_uc1"><text class="g" transform="rotate(-46.4)" x="-1147">KU513561_3_uc1</text></g>
<g id="FJ998008_3i"><text class="g" transform="rotate(-45.1)" x="-1133">FJ998008_3i</text></g>
<g id="D053VS1904"><text transform="rotate(-43.7)" x="-1126">D053VS1904</text></g>
<g id="D120SZ2002"><text transform="rotate(-42.3)" x="-1067">D120SZ2002</text></g>
<g id="AP003430_3b"><text class="g" transform="rotate(-40.9)" x="-1009">AP003430_3b</text></g>
<g id="AY115488_3j"><text class="g" transform="rotate(-39.5)" x="-999">AY115488_3j</text></g>
<g id="FJ906895_3ra"><text class="g" transform="rotate(-38.1)" x="-1798">FJ906895_3ra</text></g>
<g id="D135BE2006"><text transform="rotate(-36.8)" x="-1783">D135BE2006</text></g>
<g id="D082VD1908"><text transform="rotate(-35.4)" x="-1780">D082VD1908</text></g>
<g id="D051TG1902"><text transform="rotate(-34)" x="-1790">D051TG1902</text></g>
<g id="D207VS2109"><text transform="rotate(-32.6)" x="-1787">D207VS2109</text></g>
<g id="D289VS2307"><text transform="rotate(-31.2)" x="-1798">D289VS2307</text></g>
<g id="D292VS2308"><text transform="rotate(-29.8)" x="-1779">D292VS2308</text></g>
<g id="D115AG2001"><text transform="rotate(-28.4)" x="-1781">D115AG2001</text></g>
<g id="D281BE2306"><text transform="rotate(-27.1)" x="-1779">D281BE2306</text></g>
<g id="D220BE2201"><text transform="rotate(-25.7)" x="-1780">D220BE2201</text></g>
<g id="D153BL2101"><text transform="rotate(-24.3)" x="-1779">D153BL2101</text></g>
<g id="D098TI1911"><text transform="rotate(-22.9)" x="-1779">D098TI1911</text></g>
<g id="D254GE2212"><text transform="rotate(-21)" x="-1211">D254GE2212</text></g>
<g id="AB248521_3e"><text class="g" transform="rotate(-19.8)" x="-1181">AB248521_3e</text></g>
<g id="D019BE1811"><text transform="rotate(-18.5)" x="-1210">D019BE1811</text></g>
<g id="D261ZH2301"><text transform="rotate(-17.2)" x="-1191">D261ZH2301</text></g>
<g id="D223BE2203"><text transform="rotate(-15.8)" x="-1208">D223BE2203</text></g>
<g id="D128GE2005"><text transform="rotate(-14.4)" x="-1211">D128GE2005</text></g>
<g id="D284ZH2306"><text transform="rotate(-13)" x="-1238">D284ZH2306</text></g>
<g id="D210VD2111"><text transform="rotate(-11.6)" x="-1215">D210VD2111</text></g>
<g id="AF455784_3g"><text class="g" transform="rotate(-10.3)" x="-1246">AF455784_3g</text></g>
<g id="D089GE1909"><text transform="rotate(-9.1)" x="-1190">D089GE1909</text></g>
<g id="D045F1902"><text transform="rotate(-7.7)" x="-1172">D045F1902</text></g>
<g id="D288GE2307"><text transform="rotate(-6.3)" x="-1197">D288GE2307</text></g>
<g id="D206ZH2108"><text transform="rotate(-4.9)" x="-1201">D206ZH2108</text></g>
<g id="D134LU2006"><text transform="rotate(-3.5)" x="-1216">D134LU2006</text></g>
<g id="D248NE2210"><text transform="rotate(-2.1)" x="-1193">D248NE2210</text></g>
<g id="D233GE2208"><text transform="rotate(-0.8)" x="-1227">D233GE2208</text></g>
<g id="D195LU2103"><text transform="rotate(0.6)" x="-1220">D195LU2103</text></g>
<g id="D107ZG1912"><text transform="rotate(2)" x="-1224">D107ZG1912</text></g>
<g id="D230VS2207"><text transform="rotate(3.4)" x="-1187">D230VS2207</text></g>
<g id="D118VD2002"><text transform="rotate(4.8)" x="-1182">D118VD2002</text></g>
<g id="D096ZH1911"><text transform="rotate(6.2)" x="-1199">D096ZH1911</text></g>
<g id="AB369687_3f1"><text class="g" transform="rotate(7.6)" x="-1203">AB369687_3f1</text></g>
<g id="D152VD2101"><text transform="rotate(8.9)" x="-1203">D152VD2101</text></g>
<g id="D099F1912"><text transform="rotate(10.3)" x="-1240">D099F1912</text></g>
<g id="D028FR1812"><text transform="rotate(11.7)" x="-1200">D028FR1812</text></g>
<g id="D001BE1711"><text transform="rotate(13.1)" x="-1194">D001BE1711</text></g>
<g id="D038SO1901"><text transform="rotate(14.5)" x="-1192">D038SO1901</text></g>
<g id="D295FR2308"><text transform="rotate(15.9)" x="-1214">D295FR2308</text></g>
<g id="D083VS1908"><text transform="rotate(17.2)" x="-1195">D083VS1908</text></g>
<g id="AB369689_3h2"><text class="g" transform="rotate(18.6)" x="-1053">AB369689_3h2</text></g>
<g id="AB074915_4c"><text class="g" transform="rotate(20)" x="-932">AB074915_4c</text></g>
<g id="AF082843_3a"><text class="g" transform="rotate(21.4)" x="-1060">AF082843_3a</text></g>
<g id="D133BE2006"><text transform="rotate(22.8)" x="-1064">D133BE2006</text></g>
<g id="D291VS2308"><text transform="rotate(24.2)" x="-1063">D291VS2308</text></g>
<g id="D199ZH2104"><text transform="rotate(25.6)" x="-1026">D199ZH2104</text></g>
<g id="D167JU2102"><text transform="rotate(26.9)" x="-1155">D167JU2102</text></g>
<g id="D160BS2102"><text transform="rotate(28.3)" x="-1155">D160BS2102</text></g>
<g id="D168BL2102"><text transform="rotate(29.7)" x="-1155">D168BL2102</text></g>
<g id="D171BE2102"><text transform="rotate(31.1)" x="-1155">D171BE2102</text></g>
<g id="D172SG2102"><text transform="rotate(32.5)" x="-1155">D172SG2102</text></g>
<g id="D184ZH2102"><text transform="rotate(33.9)" x="-1155">D184ZH2102</text></g>
<g id="D188ZH2103"><text transform="rotate(35.2)" x="-1155">D188ZH2103</text></g>
<g id="D191BL2103"><text transform="rotate(36.6)" x="-1154">D191BL2103</text></g>
<g id="D158ZH2102"><text transform="rotate(38)" x="-1153">D158ZH2102</text></g>
<g id="D157ZG2102"><text transform="rotate(39.4)" x="-1155">D157ZG2102</text></g>
<g id="D194BL2103"><text transform="rotate(40.8)" x="-1155">D194BL2103</text></g>
<g id="D236JU2208"><text transform="rotate(42.2)" x="-1159">D236JU2208</text></g>
<g id="D187AG2103"><text transform="rotate(43.6)" x="-1159">D187AG2103</text></g>
<g id="D182BL2103"><text transform="rotate(44.9)" x="-1155">D182BL2103</text></g>
<g id="D178VS2103"><text transform="rotate(46.3)" x="-1153">D178VS2103</text></g>
<g id="D161NW2102"><text transform="rotate(47.7)" x="-1152">D161NW2102</text></g>
<g id="D181JU2103"><text transform="rotate(49.1)" x="-1158">D181JU2103</text></g>
<g id="D176BL2103"><text transform="rotate(50.5)" x="-1157">D176BL2103</text></g>
<g id="D177BE2103"><text transform="rotate(51.9)" x="-1157">D177BE2103</text></g>
<g id="D186SG2103"><text transform="rotate(53.2)" x="-1157">D186SG2103</text></g>
<g id="D125LU2004"><text transform="rotate(54.6)" x="-1156">D125LU2004</text></g>
<g id="D005VD1807"><text transform="rotate(56)" x="-1153">D005VD1807</text></g>
<g id="D225BE2205"><text transform="rotate(57.4)" x="-1152">D225BE2205</text></g>
<g id="D193BE2103"><text transform="rotate(58.8)" x="-1159">D193BE2103</text></g>
<g id="D285AG2307"><text transform="rotate(60.2)" x="-1167">D285AG2307</text></g>
<g id="D114BS2001"><text transform="rotate(61.6)" x="-1154">D114BS2001</text></g>
<g id="D105LU1912"><text transform="rotate(62.9)" x="-1156">D105LU1912</text></g>
<g id="D200AG2105"><text transform="rotate(64.3)" x="-1157">D200AG2105</text></g>
<g id="D154JU2101"><text transform="rotate(65.7)" x="-1157">D154JU2101</text></g>
<g id="D264ZH2301"><text transform="rotate(67.1)" x="-1167">D264ZH2301</text></g>
<g id="D224BE2203"><text transform="rotate(68.5)" x="-1165">D224BE2203</text></g>
<g id="D280BS2305"><text transform="rotate(69.9)" x="-1176">D280BS2305</text></g>
<g id="D215JU2201"><text transform="rotate(71.2)" x="-1165">D215JU2201</text></g>
<g id="D156VD2102"><text transform="rotate(72.6)" x="-1160">D156VD2102</text></g>
<g id="D113BL2001"><text transform="rotate(74)" x="-1156">D113BL2001</text></g>
<g id="D212BE2111"><text transform="rotate(75.4)" x="-1153">D212BE2111</text></g>
<g id="D108AG1912"><text transform="rotate(76.8)" x="-1149">D108AG1912</text></g>
<g id="D117BE2002"><text transform="rotate(78.2)" x="-1158">D117BE2002</text></g>
<g id="D066BL1905"><text transform="rotate(79.6)" x="-1155">D066BL1905</text></g>
<g id="D061AG1905"><text transform="rotate(80.9)" x="-1158">D061AG1905</text></g>
<g id="D056FR1904"><text transform="rotate(82.3)" x="-1161">D056FR1904</text></g>
<g id="D123ZH2002"><text transform="rotate(83.7)" x="-1163">D123ZH2002</text></g>
<g id="MF346773_3h3"><text class="g" transform="rotate(85.1)" x="-1158">MF346773_3h3</text></g>
<g id="D257BE2301"><text transform="rotate(86.5)" x="-1170">D257BE2301</text></g>
<g id="D130SG2004"><text transform="rotate(87.9)" x="-1165">D130SG2004</text></g>
<g id="D080ZH1907"><text transform="rotate(89.2)" x="-1168">D080ZH1907</text></g>
</g>
<g id="D119JU2002"><text transform="rotate(270.6)" x="1167">D119JU2002</text></g>
<g id="D112GR2001"><text transform="rotate(272)" x="1176">D112GR2001</text></g>
<g id="D121ZH2002"><text transform="rotate(273.4)" x="1153">D121ZH2002</text></g>
<g id="D026SG1811"><text transform="rotate(274.8)" x="1150">D026SG1811</text></g>
<g id="KY780957_3h3"><text class="g" transform="rotate(276.2)" x="1185">KY780957_3h3</text></g>
<g id="D147ZH2011"><text transform="rotate(277.6)" x="1173">D147ZH2011</text></g>
<g id="D166TI2102"><text transform="rotate(278.9)" x="1175">D166TI2102</text></g>
<g id="D162VD2102"><text transform="rotate(280.3)" x="1174">D162VD2102</text></g>
<g id="D148TI2011"><text transform="rotate(281.7)" x="1172">D148TI2011</text></g>
<g id="D048ZH1902"><text transform="rotate(283.1)" x="1160">D048ZH1902</text></g>
<g id="D042ZH1902"><text transform="rotate(284.5)" x="1159">D042ZH1902</text></g>
<g id="D033VS1901"><text transform="rotate(285.9)" x="1170">D033VS1901</text></g>
<g id="D190BE2103"><text transform="rotate(287.2)" x="1168">D190BE2103</text></g>
<g id="D155NE2101"><text transform="rotate(288.6)" x="1167">D155NE2101</text></g>
<g id="D169TI2102"><text transform="rotate(290)" x="1168">D169TI2102</text></g>
<g id="D175FR2102"><text transform="rotate(291.4)" x="1168">D175FR2102</text></g>
<g id="D183AG2103"><text transform="rotate(292.8)" x="1169">D183AG2103</text></g>
<g id="D185FR2103"><text transform="rotate(294.2)" x="1169">D185FR2103</text></g>
<g id="D197BE2104"><text transform="rotate(295.6)" x="1169">D197BE2104</text></g>
<g id="D205BE2108"><text transform="rotate(296.9)" x="1169">D205BE2108</text></g>
<g id="D164FR2102"><text transform="rotate(298.3)" x="1169">D164FR2102</text></g>
<g id="D173BE2102"><text transform="rotate(299.7)" x="1169">D173BE2102</text></g>
<g id="D170BE2102"><text transform="rotate(301.1)" x="1169">D170BE2102</text></g>
<g id="D014BE1810"><text transform="rotate(302.5)" x="1162">D014BE1810</text></g>
<g id="D204GE2107"><text transform="rotate(303.9)" x="1161">D204GE2107</text></g>
<g id="D303TI2310"><text transform="rotate(305.2)" x="1169">D303TI2310</text></g>
<g id="D087NE1909"><text transform="rotate(306.6)" x="1178">D087NE1909</text></g>
<g id="D276ZH2304"><text transform="rotate(308)" x="1185">D276ZH2304</text></g>
<g id="D142VD2010"><text transform="rotate(309.4)" x="1180">D142VD2010</text></g>
<g id="D034GE1901"><text transform="rotate(310.8)" x="1169">D034GE1901</text></g>
<g id="D109VS2001"><text transform="rotate(312.2)" x="1169">D109VS2001</text></g>
<g id="D029VS1812"><text transform="rotate(313.6)" x="1168">D029VS1812</text></g>
<g id="D050ZH1902"><text transform="rotate(314.9)" x="1170">D050ZH1902</text></g>
<g id="D027ZH1812"><text transform="rotate(316.3)" x="1166">D027ZH1812</text></g>
<g id="D255GR2211"><text transform="rotate(317.7)" x="1181">D255GR2211</text></g>
<g id="D251ZH2211"><text transform="rotate(319.1)" x="1182">D251ZH2211</text></g>
<g id="D219GR2201"><text transform="rotate(320.5)" x="1182">D219GR2201</text></g>
<g id="D216GR2201"><text transform="rotate(321.9)" x="1184">D216GR2201</text></g>
<g id="D018TG1810"><text transform="rotate(323.2)" x="1161">D018TG1810</text></g>
<g id="D240ZH2209"><text transform="rotate(324.6)" x="1164">D240ZH2209</text></g>
<g id="D037BS1901"><text transform="rotate(326)" x="1153">D037BS1901</text></g>
<g id="D159ZH2102"><text transform="rotate(327.4)" x="1180">D159ZH2102</text></g>
<g id="D241AG2209"><text transform="rotate(328.8)" x="1203">D241AG2209</text></g>
<g id="D070VD1906"><text transform="rotate(330.2)" x="1194">D070VD1906</text></g>
<g id="D174VD2102"><text transform="rotate(331.6)" x="1180">D174VD2102</text></g>
<g id="D273AG2303"><text transform="rotate(332.9)" x="1190">D273AG2303</text></g>
<g id="D275AG2303"><text transform="rotate(334.3)" x="1187">D275AG2303</text></g>
<g id="D269VS2302"><text transform="rotate(335.7)" x="1187">D269VS2302</text></g>
<g id="D268BE2302"><text transform="rotate(337.1)" x="1187">D268BE2302</text></g>
<g id="D217VD2201"><text transform="rotate(338.5)" x="1179">D217VD2201</text></g>
<g id="D111TI2001"><text transform="rotate(339.9)" x="1197">D111TI2001</text></g>
<g id="D279BE2305"><text transform="rotate(341.2)" x="1209">D279BE2305</text></g>
<g id="D103SG1912"><text transform="rotate(342.6)" x="1206">D103SG1912</text></g>
<g id="D030SG1812"><text transform="rotate(344)" x="1221">D030SG1812</text></g>
<g id="D095SG1911"><text transform="rotate(345.4)" x="1167">D095SG1911</text></g>
<g id="D072VD1906"><text transform="rotate(346.8)" x="1174">D072VD1906</text></g>
<g id="D085AG1908"><text transform="rotate(348.2)" x="1190">D085AG1908</text></g>
<g id="D101VD1912"><text transform="rotate(349.6)" x="1178">D101VD1912</text></g>
<g id="D044AG1902"><text transform="rotate(350.9)" x="1194">D044AG1902</text></g>
<g id="D004BE1807"><text transform="rotate(352.3)" x="1167">D004BE1807</text></g>
<g id="D102SG1912"><text transform="rotate(353.7)" x="1203">D102SG1912</text></g>
<g id="D104SO1912"><text transform="rotate(355.1)" x="1185">D104SO1912</text></g>
<g id="D218SG2201"><text transform="rotate(356.5)" x="1178">D218SG2201</text></g>
<g id="D047BL1902"><text transform="rotate(357.9)" x="1178">D047BL1902</text></g>
<g id="D203GR2107"><text transform="rotate(359.2)" x="1204">D203GR2107</text></g>
<g id="D003OW1711"><text transform="rotate(0.6)" x="1201">D003OW1711</text></g>
<g id="D052NE1902"><text transform="rotate(2)" x="1199">D052NE1902</text></g>
<g id="D039AG1901"><text transform="rotate(3.4)" x="1213">D039AG1901</text></g>
</g>
<g id="clade-names">
<text class="h" x="1923" y="87" text-anchor="middle" fill="#FF0066">3h3</text>
<text class="h" x="620" y="1023" text-anchor="middle" fill="#AA00AA">3a</text>
<text class="h" x="365" y="1427" text-anchor="middle" fill="#0066FF">3f1</text>
<text class="h" x="453" y="1954" text-anchor="middle" fill="#00CCFF">3e</text>
<text class="h" x="97" y="2586" text-anchor="middle" fill="#FF6600">3ra</text>
<text class="h" x="2670" y="2773" text-anchor="middle" fill="#00CC00">3c</text>
<text class="h" x="3280" y="1672" text-anchor="middle" fill="#FF9999" style="font-size:57px">3h1</text>
</g>
<g id="scale-bar">
<path d="M1529 3016H1760" stroke="#000" stroke-width="2.6" fill="none"/>
<text x="1645" y="3071" text-anchor="middle" font-size="48" font-weight="bold" font-style="italic">0.2</text>
</g>
</svg>
